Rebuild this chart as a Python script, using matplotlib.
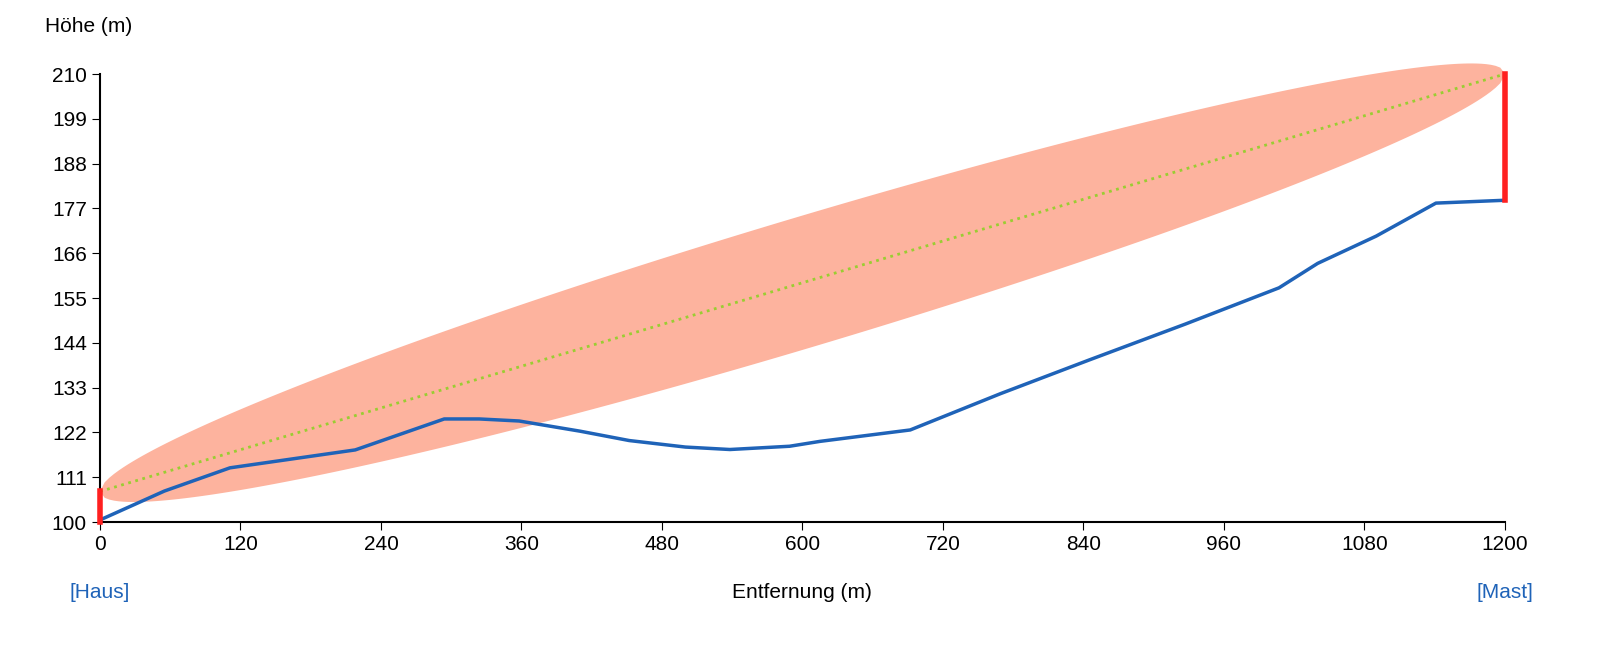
import numpy as np
import matplotlib.pyplot as plt

plt.rcParams['font.family'] = 'Liberation Sans'

# Geländeprofil
dist = [0, 55, 111, 218, 294, 324, 358, 410, 452, 500, 538, 589, 615, 692, 769, 845, 927, 1007, 1040, 1090, 1141, 1200]
hoehe = [100.5, 107.6, 113.3, 117.7, 125.3, 125.3, 124.8, 122.3, 120.0, 118.4, 117.8, 118.6, 119.8, 122.6, 131.5, 139.8, 148.6, 157.5, 163.5, 170.2, 178.3, 179.0]

haus_boden, haus_antenne = 100, 107.5
mast_boden, mast_antenne = 179, 210
fresnel_h = 16.5
yticks = [100, 111, 122, 133, 144, 155, 166, 177, 188, 199, 210]
xticks = [0, 120, 240, 360, 480, 600, 720, 840, 960, 1080, 1200]

fig = plt.figure(figsize=(16.08, 6.62), dpi=100)
ax = fig.add_axes([100/1608, 140/662, 1405/1608, 448/662])

# Fresnel-Zone
t = np.linspace(0, 1, 300)
lx = t * 1200
ly = haus_antenne + t * (mast_antenne - haus_antenne)
off = fresnel_h * np.sqrt(np.clip(4 * t * (1 - t), 0, None))
px = np.concatenate([lx, lx[::-1]])
py = np.concatenate([ly + off, (ly - off)[::-1]])
ax.fill(px, py, color='#fdb39e', lw=0, zorder=1, clip_on=False)
ax.plot([0, 1200], [haus_antenne, mast_antenne], color='#9acd32', ls=':', lw=2, zorder=2)

ax.plot(dist, hoehe, color='#1f63b8', lw=2.5, zorder=3)
ax.plot([0, 0], [haus_boden, haus_antenne], color='#ff2020', lw=4, zorder=4, clip_on=False)
ax.plot([1200, 1200], [mast_boden, mast_antenne], color='#ff2020', lw=4, zorder=4, clip_on=False)

ax.set_xlim(0, 1200)
ax.set_ylim(100, 210)
ax.set_xticks(xticks)
ax.set_yticks(yticks)
ax.tick_params(labelsize=15, length=6)
for s in ['top', 'right']:
    ax.spines[s].set_visible(False)
for s in ['left', 'bottom']:
    ax.spines[s].set_linewidth(1.5)

fig.text(45/1608, 1 - 27/662, 'Höhe (m)', fontsize=15, va='center', ha='left')
fig.text(802/1608, 1 - 593/662, 'Entfernung (m)', fontsize=15, va='center', ha='center')
fig.text(100/1608, 1 - 593/662, '[Haus]', fontsize=15, va='center', ha='center', color='#1f63b8')
fig.text(1505/1608, 1 - 593/662, '[Mast]', fontsize=15, va='center', ha='center', color='#1f63b8')

fig.savefig('out.png', dpi=100)
